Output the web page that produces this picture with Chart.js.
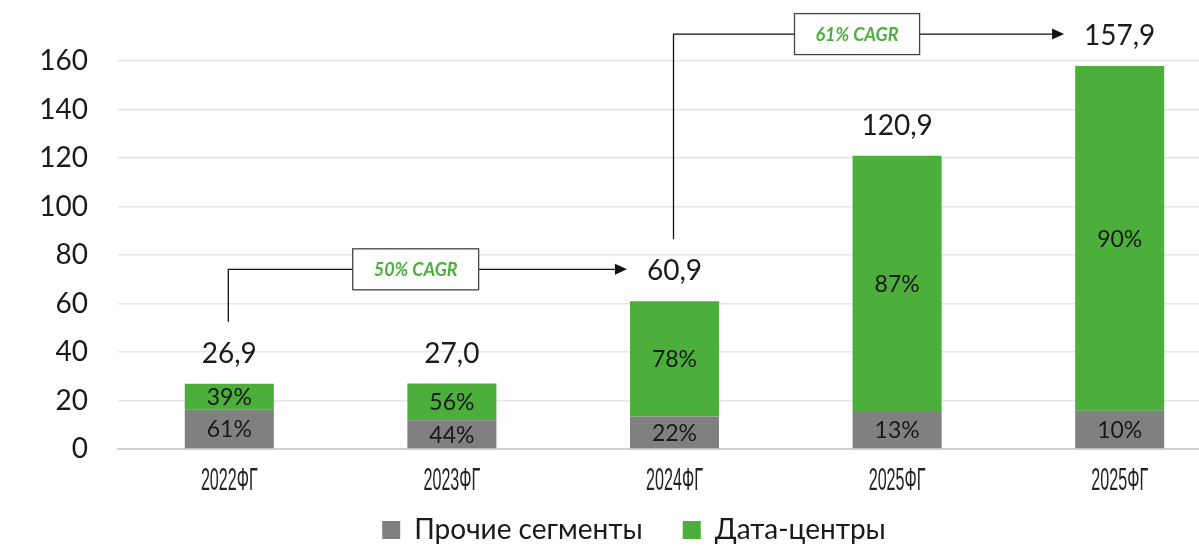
<!DOCTYPE html>
<html>
<head>
<meta charset="utf-8">
<script src="https://cdn.jsdelivr.net/npm/chart.js@4.4.1/dist/chart.umd.min.js"></script>
<style>
  html, body { margin: 0; padding: 0; background: #fff; }
  #wrap { width: 1199px; height: 546px; overflow: hidden; position: relative; }
  #revChart { display: block; }
</style>
</head>
<body>
<div id="wrap"><canvas id="revChart" width="1307" height="570"></canvas></div>
<script>
// Revenue split by segment, per fiscal year
const years = ["2022ФГ", "2023ФГ", "2024ФГ", "2025ФГ", "2025ФГ"];
const otherSegments = [16.4, 11.9, 13.4, 15.7, 15.8];
const dataCenters = [10.5, 15.1, 47.5, 105.2, 142.1];
const otherShare = ["61%", "44%", "22%", "13%", "10%"];
const dcShare = ["39%", "56%", "78%", "87%", "90%"];
const yTicks = [0, 20, 40, 60, 80, 100, 120, 140, 160];
// growth callouts: from bar index -> to bar index
const cagrNotes = [
  { from: 0, to: 2, text: "50% CAGR" },
  { from: 2, to: 4, text: "61% CAGR" }
];

const GREEN = "#4caf3c";
const GRAY = "#808080";
const TEXT = "#1a1a1a";
const FONT = "Lato, 'Open Sans', sans-serif";

const totals = years.map((_, i) => otherSegments[i] + dataCenters[i]);
const fmt = v => v.toFixed(1).replace(".", ",");

const ctx = document.getElementById("revChart");

// labels inside bars, totals above, x labels, growth arrows
const overlay = {
  id: "overlay",
  afterDatasetsDraw(chart) {
    const c = chart.ctx;
    const xs = chart.scales.x;
    const ys = chart.scales.y;
    c.save();
    c.textAlign = "center";
    c.textBaseline = "middle";

    // percentages in each segment
    c.fillStyle = TEXT;
    c.font = "23px " + FONT;
    [otherShare, dcShare].forEach((arr, d) => {
      chart.getDatasetMeta(d).data.forEach((bar, i) => {
        const mid = (bar.y + bar.base) / 2;
        c.fillText(arr[i], bar.x, mid + 1);
      });
    });

    // totals above the stacks
    c.font = "28px " + FONT;
    const labelPos = totals.map((t, i) => {
      const x = xs.getPixelForValue(i);
      const y = ys.getPixelForValue(t) - 30;
      c.fillText(fmt(t), x, y);
      return { x, y, w: c.measureText(fmt(t)).width };
    });

    // category labels, condensed
    c.font = "31px 'Liberation Sans Narrow', 'Liberation Sans', sans-serif";
    c.fillStyle = "#222";
    years.forEach((lab, i) => {
      const x = xs.getPixelForValue(i);
      c.save();
      c.translate(x, ys.bottom + 32);
      c.scale(0.52, 1);
      c.fillText(lab, 0, 0);
      c.restore();
    });

    // growth arrows with boxed CAGR text
    cagrNotes.forEach(n => {
      const a = labelPos[n.from];
      const b = labelPos[n.to];
      const x0 = a.x - 1;
      const yTop = b.y - 2;
      const yBottom = a.y - 32;
      const tipX = b.x - b.w / 2 - 20;
      c.strokeStyle = "#111";
      c.lineWidth = 1.3;
      c.beginPath();
      c.moveTo(x0, yBottom);
      c.lineTo(x0, yTop);
      c.lineTo(tipX - 10, yTop);
      c.stroke();
      c.fillStyle = "#111";
      c.beginPath();
      c.moveTo(tipX, yTop);
      c.lineTo(tipX - 12, yTop - 5.5);
      c.lineTo(tipX - 12, yTop + 5.5);
      c.closePath();
      c.fill();

      c.font = "italic bold 18px " + FONT;
      const tw = c.measureText(n.text).width;
      const bw = tw + 42;
      const bh = 41;
      const cx = x0 + (tipX - x0) * 0.47;
      c.fillStyle = "#fff";
      c.fillRect(cx - bw / 2, yTop - bh / 2, bw, bh);
      c.strokeStyle = "#444";
      c.lineWidth = 1.3;
      c.strokeRect(cx - bw / 2, yTop - bh / 2, bw, bh);
      c.fillStyle = GREEN;
      c.fillText(n.text, cx, yTop + 1);
    });
    c.restore();
  }
};

new Chart(ctx, {
  type: "bar",
  data: {
    labels: years,
    datasets: [
      {
        label: "Прочие сегменты",
        data: otherSegments,
        backgroundColor: GRAY
      },
      {
        label: "Дата-центры",
        data: dataCenters,
        backgroundColor: GREEN
      }
    ]
  },
  options: {
    responsive: false,
    animation: false,
    layout: { padding: { top: 61, right: 76, left: 37, bottom: 16 } },
    datasets: { bar: { barPercentage: 0.4, categoryPercentage: 1 } },
    scales: {
      x: {
        stacked: true,
        grid: { display: false },
        border: { color: "#d0d0d0", width: 2 },
        ticks: { display: false },
        afterFit(scale) { scale.height = 27; }
      },
      y: {
        stacked: true,
        min: 0,
        max: 160,
        afterBuildTicks(scale) { scale.ticks = yTicks.map(v => ({ value: v })); },
        afterFit(scale) { scale.width = 81; },
        border: { display: false },
        grid: { color: "#e6e6e6", lineWidth: 1.5, drawTicks: false },
        ticks: {
          padding: 30,
          color: TEXT,
          font: { family: FONT, size: 28 }
        }
      }
    },
    plugins: {
      legend: {
        position: "bottom",
        labels: {
          boxWidth: 18,
          boxHeight: 18,
          padding: 40,
          color: TEXT,
          font: { family: FONT, size: 28 }
        }
      },
      tooltip: { enabled: false }
    }
  },
  plugins: [overlay]
});
</script>
</body>
</html>
